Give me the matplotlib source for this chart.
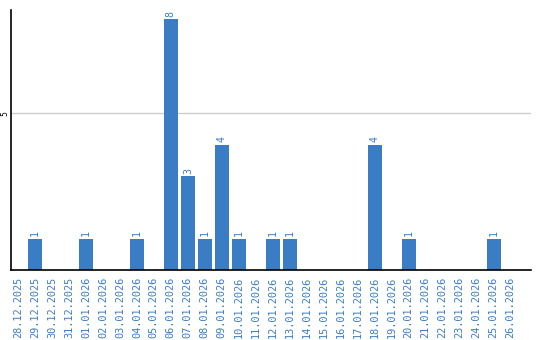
import matplotlib.pyplot as plt

dates = ["28.12.2025", "29.12.2025", "30.12.2025", "31.12.2025", "01.01.2026",
         "02.01.2026", "03.01.2026", "04.01.2026", "05.01.2026", "06.01.2026",
         "07.01.2026", "08.01.2026", "09.01.2026", "10.01.2026", "11.01.2026",
         "12.01.2026", "13.01.2026", "14.01.2026", "15.01.2026", "16.01.2026",
         "17.01.2026", "18.01.2026", "19.01.2026", "20.01.2026", "21.01.2026",
         "22.01.2026", "23.01.2026", "24.01.2026", "25.01.2026", "26.01.2026"]
counts = [0, 1, 0, 0, 1, 0, 0, 1, 0, 8, 3, 1, 4, 1, 0,
          1, 1, 0, 0, 0, 0, 4, 0, 1, 0, 0, 0, 0, 1, 0]

blue = "#3b7dc4"
mono = "DejaVu Sans Mono"

fig = plt.figure(figsize=(5.4, 3.4), dpi=100)
ax = fig.add_axes([11 / 540, 70 / 340, 520 / 540, 260 / 340])

x = list(range(len(dates)))
ax.bar(x, counts, width=0.82, color=blue, zorder=2)
for xi, v in zip(x, counts):
    if v > 0:
        ax.text(xi, v + 0.08, str(v), rotation=90, ha="center", va="bottom",
                color=blue, fontsize=7.2, family=mono)

ax.set_xlim(-0.41, 30.2)
ax.set_ylim(0, 8.3)
ax.set_xticks(x)
ax.set_xticklabels(dates, rotation=90, color=blue, fontsize=7.4, family=mono)
ax.set_yticks([5])
ax.set_yticklabels(["5"], rotation=90, va="center", fontsize=5.5)
ax.tick_params(axis="x", length=0, pad=5)
ax.tick_params(axis="y", length=0, pad=1)
ax.grid(axis="y", color="#cccccc", linewidth=1, zorder=1)
for s in ["top", "right"]:
    ax.spines[s].set_visible(False)
ax.spines["left"].set_linewidth(1.2)
ax.spines["bottom"].set_linewidth(1.2)

fig.savefig("out.png", dpi=100)
